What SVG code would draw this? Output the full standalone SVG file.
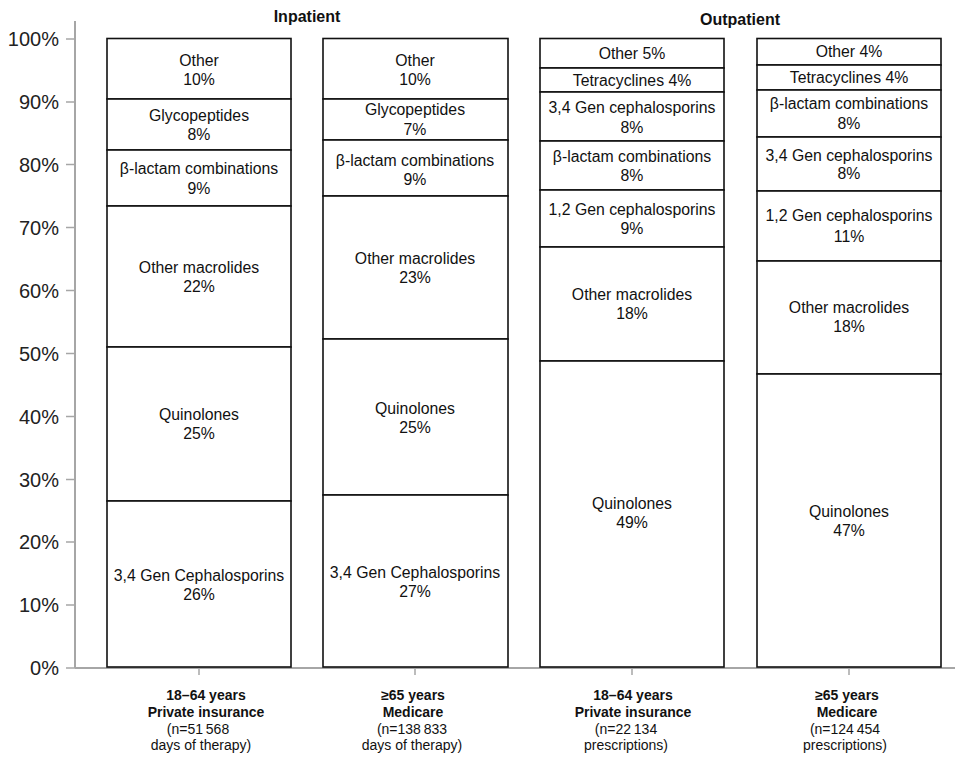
<svg xmlns="http://www.w3.org/2000/svg" width="955" height="760" viewBox="0 0 955 760">
<style>
.seg{fill:#fff;stroke:#111;stroke-width:1.6}
.lbl{font-family:"Liberation Sans",Arial,sans-serif;font-size:15.8px;fill:#111;text-anchor:middle}
.ylab{font-family:"Liberation Sans",Arial,sans-serif;font-size:20px;fill:#222;text-anchor:end}
.title{font-family:"Liberation Sans",Arial,sans-serif;font-size:16px;font-weight:bold;fill:#111;text-anchor:middle}
.cat{font-family:"Liberation Sans",Arial,sans-serif;font-size:14px;fill:#111;text-anchor:middle}
.catb{font-weight:bold}
.axis{stroke:#a6a6a6;stroke-width:2;fill:none}
.tick{stroke:#a6a6a6;stroke-width:1.5}
</style>
<rect width="955" height="760" fill="#fff"/>
<g id="axes">
<line class="axis" x1="75" y1="21" x2="75" y2="668"/>
<line class="axis" x1="75" y1="668" x2="955" y2="668"/>
<g class="ticks">
<line class="tick" x1="66" y1="39" x2="75" y2="39"/>
<line class="tick" x1="66" y1="102" x2="75" y2="102"/>
<line class="tick" x1="66" y1="164.5" x2="75" y2="164.5"/>
<line class="tick" x1="66" y1="227.5" x2="75" y2="227.5"/>
<line class="tick" x1="66" y1="290.5" x2="75" y2="290.5"/>
<line class="tick" x1="66" y1="353.5" x2="75" y2="353.5"/>
<line class="tick" x1="66" y1="416.5" x2="75" y2="416.5"/>
<line class="tick" x1="66" y1="479.5" x2="75" y2="479.5"/>
<line class="tick" x1="66" y1="542" x2="75" y2="542"/>
<line class="tick" x1="66" y1="605" x2="75" y2="605"/>
<line class="tick" x1="66" y1="668" x2="75" y2="668"/>
<line class="tick" x1="199" y1="668" x2="199" y2="675"/>
<line class="tick" x1="415" y1="668" x2="415" y2="675"/>
<line class="tick" x1="632" y1="668" x2="632" y2="675"/>
<line class="tick" x1="849" y1="668" x2="849" y2="675"/>
</g>
<text class="ylab" x="59" y="46">100%</text>
<text class="ylab" x="59" y="109">90%</text>
<text class="ylab" x="59" y="171.5">80%</text>
<text class="ylab" x="59" y="234.5">70%</text>
<text class="ylab" x="59" y="297.5">60%</text>
<text class="ylab" x="59" y="360.5">50%</text>
<text class="ylab" x="59" y="423.5">40%</text>
<text class="ylab" x="59" y="486.5">30%</text>
<text class="ylab" x="59" y="549">20%</text>
<text class="ylab" x="59" y="612">10%</text>
<text class="ylab" x="59" y="675">0%</text>
</g>
<text class="title" x="307" y="22">Inpatient</text>
<text class="title" x="740" y="25">Outpatient</text>

<g id="bar1">
<rect class="seg" x="107" y="38.5" width="184" height="60.5"/>
<rect class="seg" x="107" y="99" width="184" height="51"/>
<rect class="seg" x="107" y="150" width="184" height="56"/>
<rect class="seg" x="107" y="206" width="184" height="141"/>
<rect class="seg" x="107" y="347" width="184" height="154"/>
<rect class="seg" x="107" y="501" width="184" height="166"/>
<text class="lbl" x="199" y="65.5">Other</text><text class="lbl" x="199" y="85">10%</text>
<text class="lbl" x="199" y="121">Glycopeptides</text><text class="lbl" x="199" y="140">8%</text>
<text class="lbl" x="199" y="174">β-lactam combinations</text><text class="lbl" x="199" y="194">9%</text>
<text class="lbl" x="199" y="273">Other macrolides</text><text class="lbl" x="199" y="292">22%</text>
<text class="lbl" x="199" y="420">Quinolones</text><text class="lbl" x="199" y="439">25%</text>
<text class="lbl" x="199" y="581">3,4 Gen Cephalosporins</text><text class="lbl" x="199" y="600">26%</text>
</g>

<g id="bar2">
<rect class="seg" x="323" y="38.5" width="185" height="60.5"/>
<rect class="seg" x="323" y="99" width="185" height="41"/>
<rect class="seg" x="323" y="140" width="185" height="56"/>
<rect class="seg" x="323" y="196" width="185" height="143"/>
<rect class="seg" x="323" y="339" width="185" height="156"/>
<rect class="seg" x="323" y="495" width="185" height="172"/>
<text class="lbl" x="415" y="65.5">Other</text><text class="lbl" x="415" y="85">10%</text>
<text class="lbl" x="415" y="115">Glycopeptides</text><text class="lbl" x="415" y="135">7%</text>
<text class="lbl" x="415" y="166">β-lactam combinations</text><text class="lbl" x="415" y="185">9%</text>
<text class="lbl" x="415" y="264">Other macrolides</text><text class="lbl" x="415" y="283">23%</text>
<text class="lbl" x="415" y="414">Quinolones</text><text class="lbl" x="415" y="433">25%</text>
<text class="lbl" x="415" y="578">3,4 Gen Cephalosporins</text><text class="lbl" x="415" y="597">27%</text>
</g>

<g id="bar3">
<rect class="seg" x="540" y="38.5" width="184" height="29.5"/>
<rect class="seg" x="540" y="68" width="184" height="24"/>
<rect class="seg" x="540" y="92" width="184" height="49"/>
<rect class="seg" x="540" y="141" width="184" height="49"/>
<rect class="seg" x="540" y="190" width="184" height="57"/>
<rect class="seg" x="540" y="247" width="184" height="114"/>
<rect class="seg" x="540" y="361" width="184" height="306"/>
<text class="lbl" x="632" y="58.5">Other 5%</text>
<text class="lbl" x="632" y="86">Tetracyclines 4%</text>
<text class="lbl" x="632" y="113">3,4 Gen cephalosporins</text><text class="lbl" x="632" y="133">8%</text>
<text class="lbl" x="632" y="162">β-lactam combinations</text><text class="lbl" x="632" y="181">8%</text>
<text class="lbl" x="632" y="215">1,2 Gen cephalosporins</text><text class="lbl" x="632" y="234">9%</text>
<text class="lbl" x="632" y="300">Other macrolides</text><text class="lbl" x="632" y="319">18%</text>
<text class="lbl" x="632" y="509">Quinolones</text><text class="lbl" x="632" y="528">49%</text>
</g>

<g id="bar4">
<rect class="seg" x="757" y="38.5" width="184" height="26.5"/>
<rect class="seg" x="757" y="65" width="184" height="25"/>
<rect class="seg" x="757" y="90" width="184" height="47"/>
<rect class="seg" x="757" y="137" width="184" height="54"/>
<rect class="seg" x="757" y="191" width="184" height="70"/>
<rect class="seg" x="757" y="261" width="184" height="113"/>
<rect class="seg" x="757" y="374" width="184" height="293"/>
<text class="lbl" x="849" y="57">Other 4%</text>
<text class="lbl" x="849" y="83">Tetracyclines 4%</text>
<text class="lbl" x="849" y="109">β-lactam combinations</text><text class="lbl" x="849" y="129">8%</text>
<text class="lbl" x="849" y="161">3,4 Gen cephalosporins</text><text class="lbl" x="849" y="179">8%</text>
<text class="lbl" x="849" y="221">1,2 Gen cephalosporins</text><text class="lbl" x="849" y="242">11%</text>
<text class="lbl" x="849" y="313">Other macrolides</text><text class="lbl" x="849" y="332">18%</text>
<text class="lbl" x="849" y="517">Quinolones</text><text class="lbl" x="849" y="536">47%</text>
</g>

<g id="cat1">
<text class="cat catb" x="206" y="700">18–64 years</text>
<text class="cat catb" x="206" y="717">Private insurance</text>
<text class="cat" x="198" y="734">(n=51&#8201;568</text>
<text class="cat" x="201" y="750">days of therapy)</text>
</g>
<g id="cat2">
<text class="cat catb" x="413" y="700">≥65 years</text>
<text class="cat catb" x="413" y="717">Medicare</text>
<text class="cat" x="412" y="734">(n=138&#8201;833</text>
<text class="cat" x="412" y="750">days of therapy)</text>
</g>
<g id="cat3">
<text class="cat catb" x="633" y="700">18–64 years</text>
<text class="cat catb" x="633" y="717">Private insurance</text>
<text class="cat" x="626" y="734">(n=22&#8201;134</text>
<text class="cat" x="626" y="750">prescriptions)</text>
</g>
<g id="cat4">
<text class="cat catb" x="847" y="700">≥65 years</text>
<text class="cat catb" x="847" y="717">Medicare</text>
<text class="cat" x="845" y="734">(n=124&#8201;454</text>
<text class="cat" x="845" y="750">prescriptions)</text>
</g>
</svg>
